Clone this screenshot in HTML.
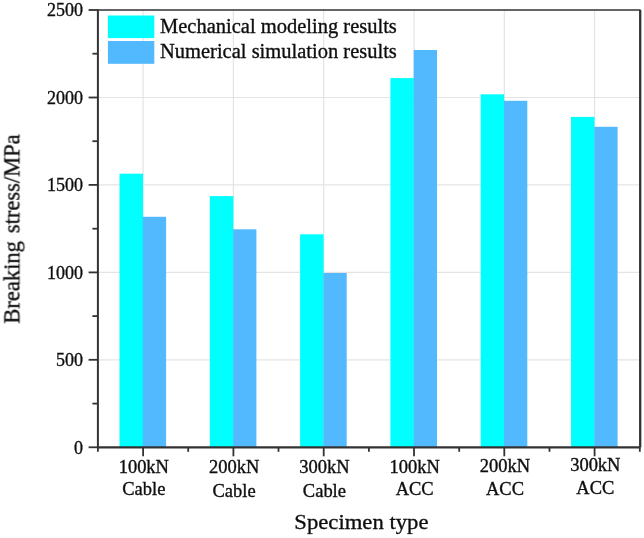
<!DOCTYPE html><html><head><meta charset="utf-8"><title>Breaking stress chart</title>
<style>html,body{margin:0;padding:0;background:#fff}body{width:644px;height:538px;overflow:hidden}svg{display:block}text{font-family:"Liberation Serif","Times New Roman",serif;fill:#111;stroke:#111;stroke-width:0.35px}</style></head><body>
<svg width="644" height="538" viewBox="0 0 644 538">
<rect width="644" height="538" fill="#fff"/>
<defs><filter id="soft" x="-2%" y="-2%" width="104%" height="104%"><feGaussianBlur stdDeviation="0.35"/></filter></defs>
<g filter="url(#soft)">
<g stroke="#e4e4e4" stroke-width="1.2">
<line x1="97.9" x2="639.8" y1="359.8" y2="359.8"/>
<line x1="97.9" x2="639.8" y1="272.4" y2="272.4"/>
<line x1="97.9" x2="639.8" y1="184.9" y2="184.9"/>
<line x1="97.9" x2="639.8" y1="97.5" y2="97.5"/>
<line x1="143.1" x2="143.1" y1="10.0" y2="447.3"/>
<line x1="233.4" x2="233.4" y1="10.0" y2="447.3"/>
<line x1="323.7" x2="323.7" y1="10.0" y2="447.3"/>
<line x1="414.0" x2="414.0" y1="10.0" y2="447.3"/>
<line x1="504.3" x2="504.3" y1="10.0" y2="447.3"/>
<line x1="594.6" x2="594.6" y1="10.0" y2="447.3"/>
</g>
<rect x="119.5" y="173.7" width="23.5" height="273.6" fill="#00ffff"/>
<rect x="142.8" y="216.8" width="23.3" height="230.5" fill="#52b9ff"/>
<rect x="209.8" y="196.1" width="23.5" height="251.2" fill="#00ffff"/>
<rect x="233.1" y="229.3" width="23.3" height="218.0" fill="#52b9ff"/>
<rect x="300.1" y="234.3" width="23.5" height="213.0" fill="#00ffff"/>
<rect x="323.4" y="273.0" width="23.3" height="174.3" fill="#52b9ff"/>
<rect x="390.4" y="78.1" width="23.5" height="369.2" fill="#00ffff"/>
<rect x="413.7" y="50.0" width="23.3" height="397.3" fill="#52b9ff"/>
<rect x="480.7" y="94.3" width="23.5" height="353.0" fill="#00ffff"/>
<rect x="504.0" y="100.8" width="23.3" height="346.5" fill="#52b9ff"/>
<rect x="571.0" y="116.9" width="23.5" height="330.4" fill="#00ffff"/>
<rect x="594.3" y="126.8" width="23.3" height="320.5" fill="#52b9ff"/>
<rect x="107.9" y="15.5" width="46.4" height="22.6" fill="#00ffff"/>
<rect x="107.9" y="41.0" width="46.4" height="22.8" fill="#52b9ff"/>
<text x="160" y="33.1" font-size="20.5">Mechanical modeling results</text>
<text x="160" y="58.3" font-size="20.5">Numerical simulation results</text>
<g stroke="#333" fill="none">
<line x1="97.9" x2="97.9" y1="9.4" y2="448.3" stroke-width="2"/>
<line x1="97.0" x2="640.6999999999999" y1="447.40000000000003" y2="447.40000000000003" stroke-width="2.2"/>
<line x1="97.9" x2="640.5999999999999" y1="10.0" y2="10.0" stroke-width="1.6"/>
<line x1="640.1999999999999" x2="640.1999999999999" y1="10.0" y2="447.3" stroke-width="2.3"/>
<line x1="88.6" x2="97.9" y1="447.3" y2="447.3" stroke-width="1.8"/>
<line x1="92.4" x2="97.9" y1="403.6" y2="403.6" stroke-width="1.8"/>
<line x1="88.6" x2="97.9" y1="359.8" y2="359.8" stroke-width="1.8"/>
<line x1="92.4" x2="97.9" y1="316.1" y2="316.1" stroke-width="1.8"/>
<line x1="88.6" x2="97.9" y1="272.4" y2="272.4" stroke-width="1.8"/>
<line x1="92.4" x2="97.9" y1="228.7" y2="228.7" stroke-width="1.8"/>
<line x1="88.6" x2="97.9" y1="184.9" y2="184.9" stroke-width="1.8"/>
<line x1="92.4" x2="97.9" y1="141.2" y2="141.2" stroke-width="1.8"/>
<line x1="88.6" x2="97.9" y1="97.5" y2="97.5" stroke-width="1.8"/>
<line x1="92.4" x2="97.9" y1="53.7" y2="53.7" stroke-width="1.8"/>
<line x1="88.6" x2="97.9" y1="10.0" y2="10.0" stroke-width="1.8"/>
<line x1="97.9" x2="97.9" y1="447.3" y2="451.8" stroke-width="1.8"/>
<line x1="143.1" x2="143.1" y1="447.3" y2="456.3" stroke-width="1.8"/>
<line x1="188.2" x2="188.2" y1="447.3" y2="451.8" stroke-width="1.8"/>
<line x1="233.4" x2="233.4" y1="447.3" y2="456.3" stroke-width="1.8"/>
<line x1="278.5" x2="278.5" y1="447.3" y2="451.8" stroke-width="1.8"/>
<line x1="323.7" x2="323.7" y1="447.3" y2="456.3" stroke-width="1.8"/>
<line x1="368.9" x2="368.9" y1="447.3" y2="451.8" stroke-width="1.8"/>
<line x1="414.0" x2="414.0" y1="447.3" y2="456.3" stroke-width="1.8"/>
<line x1="459.2" x2="459.2" y1="447.3" y2="451.8" stroke-width="1.8"/>
<line x1="504.3" x2="504.3" y1="447.3" y2="456.3" stroke-width="1.8"/>
<line x1="549.5" x2="549.5" y1="447.3" y2="451.8" stroke-width="1.8"/>
<line x1="594.6" x2="594.6" y1="447.3" y2="456.3" stroke-width="1.8"/>
<line x1="639.8" x2="639.8" y1="447.3" y2="451.8" stroke-width="1.8"/>
</g>
<text x="83" y="453.5" font-size="18" text-anchor="end">0</text>
<text x="83" y="366.0" font-size="18" text-anchor="end">500</text>
<text x="83" y="278.6" font-size="18" text-anchor="end">1000</text>
<text x="83" y="191.1" font-size="18" text-anchor="end">1500</text>
<text x="83" y="103.7" font-size="18" text-anchor="end">2000</text>
<text x="83" y="16.2" font-size="18" text-anchor="end">2500</text>
<text transform="translate(143.8,472.5) scale(1.04,1)" font-size="17.8" text-anchor="middle">100kN</text>
<text transform="translate(143.8,495.3) scale(1.04,1)" font-size="17.8" text-anchor="middle">Cable</text>
<text transform="translate(234.1,473.3) scale(1.04,1)" font-size="17.8" text-anchor="middle">200kN</text>
<text transform="translate(234.1,496.5) scale(1.04,1)" font-size="17.8" text-anchor="middle">Cable</text>
<text transform="translate(324.4,473.3) scale(1.04,1)" font-size="17.8" text-anchor="middle">300kN</text>
<text transform="translate(324.4,496.5) scale(1.04,1)" font-size="17.8" text-anchor="middle">Cable</text>
<text transform="translate(414.7,472.6) scale(1.04,1)" font-size="17.8" text-anchor="middle">100kN</text>
<text transform="translate(414.7,495.2) scale(1.04,1)" font-size="17.8" text-anchor="middle">ACC</text>
<text transform="translate(505.0,471.6) scale(1.04,1)" font-size="17.8" text-anchor="middle">200kN</text>
<text transform="translate(505.0,495.0) scale(1.04,1)" font-size="17.8" text-anchor="middle">ACC</text>
<text transform="translate(595.3,471.1) scale(1.04,1)" font-size="17.8" text-anchor="middle">300kN</text>
<text transform="translate(595.3,494.3) scale(1.04,1)" font-size="17.8" text-anchor="middle">ACC</text>
<text transform="translate(361.4,528.5) scale(1.036,1)" font-size="21.9" text-anchor="middle">Specimen type</text>
<text transform="translate(19.4,228.9) rotate(-90) scale(1.01,1)" word-spacing="2.2" font-size="22.3" text-anchor="middle">Breaking stress/MPa</text>
</g>
</svg></body></html>
